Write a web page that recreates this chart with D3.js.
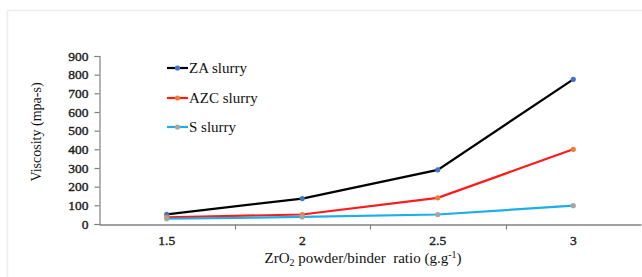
<!DOCTYPE html>
<html>
<head>
<meta charset="utf-8">
<script src="https://cdn.jsdelivr.net/npm/d3@7"></script>
<style>
html,body{margin:0;padding:0;background:#fff;overflow:hidden;}
svg{display:block;}
svg text{font-family:"Liberation Serif","Times New Roman",serif;}
</style>
</head>
<body>
<svg id="chart" width="642" height="277"></svg>
<script>
const categories = ["1.5", "2", "2.5", "3"];
const zaValues = [52, 136, 290, 775];
const azcValues = [36, 51, 140, 400];
const sValues = [28, 38, 51, 98];
const yTicks = [0, 100, 200, 300, 400, 500, 600, 700, 800, 900];
const seriesNames = ["ZA slurry", "AZC slurry", "S slurry"];

const series = [
  {name: seriesNames[0], values: zaValues, line: "#000000", marker: "#4472C4"},
  {name: seriesNames[1], values: azcValues, line: "#FF1A1A", marker: "#ED7D31"},
  {name: seriesNames[2], values: sValues, line: "#1BAEE8", marker: "#A5A5A5"}
];

const svg = d3.select("#chart");
const font = "Liberation Serif, Times New Roman, serif";

// faint frame
svg.append("path").attr("d", "M7.5,277 V10.5 H642")
  .attr("fill", "none").attr("stroke", "#ececec").attr("stroke-width", 1.5);

const x = d3.scaleBand().domain(categories).range([99, 641]);
const y = d3.scaleLinear().domain([0, 900]).range([224, 56]);

// y axis
const yAxis = svg.append("g").attr("transform", "translate(99.5,0)")
  .call(d3.axisLeft(y).tickValues(yTicks).tickSize(5).tickPadding(6));
yAxis.attr("font-family", null);
yAxis.select(".domain").attr("stroke", "#808080").attr("stroke-width", 1.2);
yAxis.selectAll(".tick line").attr("stroke", "#808080").attr("stroke-width", 1.2);
yAxis.selectAll(".tick text").style("font-family", font).style("font-size", "13.5px")
  .attr("fill", "#222").attr("stroke", "#222").attr("stroke-width", 0.4);

// x axis
const xAxis = svg.append("g").attr("transform", "translate(0,224.5)")
  .call(d3.axisBottom(x).tickSize(0).tickSizeOuter(0).tickPadding(11));
xAxis.attr("font-family", null);
xAxis.select(".domain").attr("stroke", "#808080").attr("stroke-width", 1.6);
xAxis.selectAll(".tick text").style("font-family", font).style("font-size", "13.5px")
  .attr("fill", "#222").attr("stroke", "#222").attr("stroke-width", 0.4);
// tick marks at band boundaries
const bounds = categories.slice(1).map(c => x(c));
xAxis.selectAll(".bound").data(bounds).enter().append("line")
  .attr("x1", d => Math.round(d) + 0.5).attr("x2", d => Math.round(d) + 0.5)
  .attr("y1", 0).attr("y2", 5).attr("stroke", "#808080").attr("stroke-width", 1.2);

// lines
const line = d3.line().x((d, i) => x(categories[i]) + x.bandwidth() / 2).y(d => y(d));
series.forEach(s => {
  svg.append("path").datum(s.values).attr("d", line)
    .attr("fill", "none").attr("stroke", s.line).attr("stroke-width", 2.2);
});
series.forEach(s => {
  svg.selectAll(null).data(s.values).enter().append("circle")
    .attr("cx", (d, i) => x(categories[i]) + x.bandwidth() / 2)
    .attr("cy", d => y(d)).attr("r", 2.6).attr("fill", s.marker);
});

// legend
const legendY = [68, 98, 127];
series.forEach((s, i) => {
  const g = svg.append("g").attr("transform", `translate(167,${legendY[i]})`);
  g.append("line").attr("x1", 0).attr("x2", 21).attr("y1", 0).attr("y2", 0)
    .attr("stroke", s.line).attr("stroke-width", 2.2);
  g.append("circle").attr("cx", 10.5).attr("cy", 0).attr("r", 2.6).attr("fill", s.marker);
  g.append("text").attr("x", 22).attr("y", 5).style("font-family", font)
    .style("font-size", "15px").attr("fill", "#111").text(s.name);
});

// axis titles
svg.append("text").attr("transform", "translate(41,132) rotate(-90)")
  .attr("text-anchor", "middle").style("font-family", font).style("font-size", "14px")
  .attr("fill", "#111").text("Viscosity (mpa-s)");

const xt = svg.append("text").attr("x", 363).attr("y", 263)
  .attr("text-anchor", "middle").style("font-family", font).style("font-size", "15px")
  .attr("fill", "#111");
xt.append("tspan").text("ZrO");
xt.append("tspan").style("font-size", "10px").attr("dy", 3).text("2");
xt.append("tspan").attr("dy", -3).text(" powder/binder\u00a0 ratio (g.g");
xt.append("tspan").style("font-size", "10px").attr("dy", -5).text("-1");
xt.append("tspan").attr("dy", 5).text(")");
</script>
</body>
</html>
